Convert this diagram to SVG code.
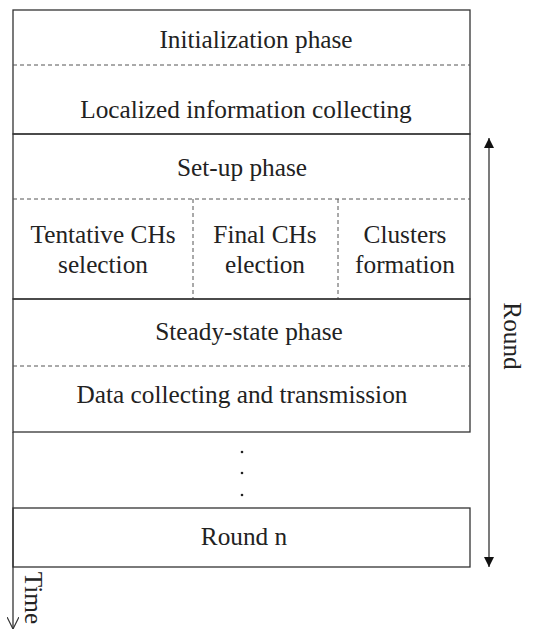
<svg xmlns="http://www.w3.org/2000/svg" width="533" height="630" viewBox="0 0 533 630">
<style>
text{font-family:'Liberation Serif', 'Times New Roman', Times, serif;font-size:25.3px;fill:#222;text-anchor:middle}
.s{fill:none;stroke:#333;stroke-width:1.3}
.d{fill:none;stroke:#555;stroke-width:1;stroke-dasharray:4,3}
</style>
<defs>
<marker id="fh" viewBox="0 0 10 10" refX="10" refY="5" markerWidth="10" markerHeight="10" markerUnits="userSpaceOnUse" orient="auto-start-reverse">
<path d="M0,0 L10,5 L0,10 z" fill="#111"/>
</marker>
<marker id="oh" viewBox="0 0 10 10" refX="10" refY="5" markerWidth="12" markerHeight="12" markerUnits="userSpaceOnUse" orient="auto">
<path d="M0,0 L10,5 L0,10" fill="none" stroke="#333" stroke-width="1"/>
</marker>
</defs>
<rect width="533" height="630" fill="#fff"/>
<g id="init">
<rect class="s" x="13" y="10" width="457" height="124"/>
<line class="d" x1="13" y1="65" x2="470" y2="65"/>
<text x="256" y="48">Initialization phase</text>
<text x="246" y="118">Localized information collecting</text>
</g>
<g id="setup">
<rect class="s" x="13" y="134" width="457" height="165"/>
<line class="d" x1="13" y1="199" x2="470" y2="199"/>
<text x="242" y="176">Set-up phase</text>
</g>
<g id="tentative">
<line class="d" x1="193" y1="199" x2="193" y2="299"/>
<text x="103" y="243">Tentative CHs</text>
<text x="103" y="273">selection</text>
</g>
<g id="final">
<line class="d" x1="338" y1="199" x2="338" y2="299"/>
<text x="265" y="243">Final CHs</text>
<text x="265" y="273">election</text>
</g>
<g id="clusters">
<text x="405" y="243">Clusters</text>
<text x="405" y="273">formation</text>
</g>
<g id="steady">
<rect class="s" x="13" y="299" width="457" height="133"/>
<line class="d" x1="13" y1="366" x2="470" y2="366"/>
<text x="249" y="340">Steady-state phase</text>
<text x="242" y="403">Data collecting and transmission</text>
</g>
<g id="dots" fill="#222">
<circle cx="242" cy="452" r="1.3"/>
<circle cx="242" cy="473" r="1.3"/>
<circle cx="242" cy="495" r="1.3"/>
</g>
<g id="roundn">
<rect class="s" x="13" y="508" width="457" height="59"/>
<text x="244" y="545">Round n</text>
</g>
<g id="connectors">
<line class="s" x1="13" y1="432" x2="13" y2="629" marker-end="url(#oh)"/>
<line x1="489" y1="138" x2="489" y2="567" stroke="#222" stroke-width="1.2" marker-start="url(#fh)" marker-end="url(#fh)"/>
</g>
<g id="labels">
<text transform="translate(504,336) rotate(90)">Round</text>
<text transform="translate(25,598) rotate(90)">Time</text>
</g>
</svg>
